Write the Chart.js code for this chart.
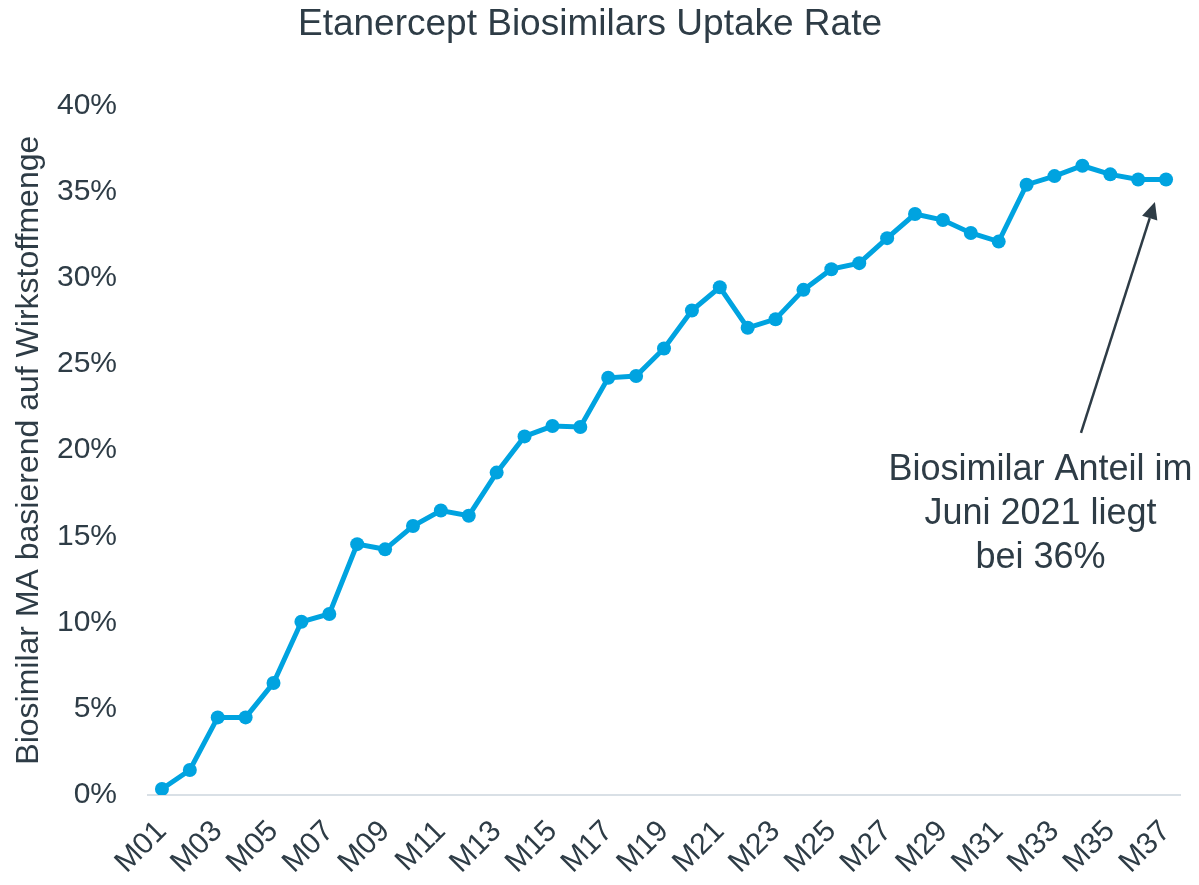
<!DOCTYPE html>
<html><head><meta charset="utf-8">
<script src="https://cdn.jsdelivr.net/npm/chart.js@4/dist/chart.umd.min.js"></script>
<style>html,body{margin:0;padding:0;background:#fff}#wrap{width:1199px;height:885px}</style>
</head><body><div id="wrap"><canvas id="c" width="1199" height="885"></canvas></div>
<script>
const months = ['M01','M02','M03','M04','M05','M06','M07','M08','M09','M10','M11','M12','M13','M14','M15','M16','M17','M18','M19','M20','M21','M22','M23','M24','M25','M26','M27','M28','M29','M30','M31','M32','M33','M34','M35','M36','M37'];
const uptake = [0.35,1.45,4.5,4.5,6.5,10.05,10.5,14.55,14.25,15.6,16.5,16.2,18.7,20.8,21.4,21.35,24.2,24.3,25.9,28.1,29.45,27.1,27.6,29.3,30.5,30.85,32.3,33.7,33.35,32.6,32.1,35.4,35.9,36.5,36.0,35.7,35.7];
const yMin = 0, yMax = 40, yStep = 5;
const titleText = 'Etanercept Biosimilars Uptake Rate';
const yTitle = 'Biosimilar MA basierend auf Wirkstoffmenge';
const noteLines = ['Biosimilar Anteil im','Juni 2021 liegt','bei 36%'];
const noteAnchor = {x: 31.5, y: 18.85};
const arrowFrom = {x: 32.95, y: 21.0};
const arrowTo = {x: 35.6, y: 34.4};

const FONT = "'Liberation Sans', Arial, Helvetica, sans-serif";
const DARK = '#2e3c46';
const BLUE = '#00a3e0';

const notePlugin = {
  id: 'note',
  afterDatasetsDraw(chart) {
    const {ctx, scales: {x, y}} = chart;
    ctx.save();
    ctx.fillStyle = DARK;
    ctx.font = '36px ' + FONT;
    ctx.textAlign = 'center';
    ctx.textBaseline = 'middle';
    const cx = x.getPixelForValue(noteAnchor.x);
    const cy = y.getPixelForValue(noteAnchor.y);
    noteLines.forEach((t, i) => ctx.fillText(t, cx, cy + i * 44));
    const x1 = x.getPixelForValue(arrowFrom.x), y1 = y.getPixelForValue(arrowFrom.y);
    const x2 = x.getPixelForValue(arrowTo.x), y2 = y.getPixelForValue(arrowTo.y);
    const ang = Math.atan2(y2 - y1, x2 - x1);
    const hl = 17, hw = 8;
    const bx = x2 - hl * Math.cos(ang), by = y2 - hl * Math.sin(ang);
    ctx.strokeStyle = DARK;
    ctx.lineWidth = 2.5;
    ctx.beginPath();
    ctx.moveTo(x1, y1);
    ctx.lineTo(bx, by);
    ctx.stroke();
    ctx.beginPath();
    ctx.moveTo(x2, y2);
    ctx.lineTo(bx + hw * Math.sin(ang), by - hw * Math.cos(ang));
    ctx.lineTo(bx - hw * Math.sin(ang), by + hw * Math.cos(ang));
    ctx.closePath();
    ctx.fill();
    ctx.restore();
  }
};

new Chart(document.getElementById('c'), {
  type: 'line',
  data: {
    labels: months,
    datasets: [{
      data: uptake,
      borderColor: BLUE,
      backgroundColor: BLUE,
      borderWidth: 5,
      pointRadius: 7,
      pointBorderWidth: 0,
      pointBackgroundColor: BLUE,
      tension: 0,
      fill: false
    }]
  },
  options: {
    responsive: false,
    devicePixelRatio: 1,
    animation: false,
    layout: {padding: {left: 0, right: 19, top: 0, bottom: 0}},
    plugins: {
      legend: {display: false},
      tooltip: {enabled: false},
      title: {
        display: true,
        text: titleText,
        color: DARK,
        font: {family: FONT, size: 37, weight: 'normal'},
        padding: {top: 3, bottom: 58}
      }
    },
    scales: {
      x: {
        offset: true,
        grid: {display: false, drawTicks: false},
        border: {display: true, color: '#d9e0e6', width: 2},
        ticks: {
          autoSkip: false,
          maxRotation: 45,
          minRotation: 45,
          padding: 19,
          color: DARK,
          font: {family: FONT, size: 30},
          callback: (v, i) => (i % 2 === 0 ? months[i] : '')
        },
        afterFit: (s) => { s.height = 90; s.paddingLeft = 0; s.paddingRight = 0; }
      },
      y: {
        min: yMin,
        max: yMax,
        grid: {display: false, drawTicks: false},
        border: {display: false},
        ticks: {
          stepSize: yStep,
          padding: 31,
          color: DARK,
          font: {family: FONT, size: 30},
          callback: (v) => v + '%'
        },
        title: {
          display: true,
          text: yTitle,
          color: DARK,
          font: {family: FONT, size: 32, weight: 'normal'},
          padding: {top: 10, bottom: 0}
        },
        afterFit: (s) => { s.width = 148; s.paddingTop = 0; s.paddingBottom = 0; }
      }
    }
  },
  plugins: [notePlugin]
});
</script></body></html>
